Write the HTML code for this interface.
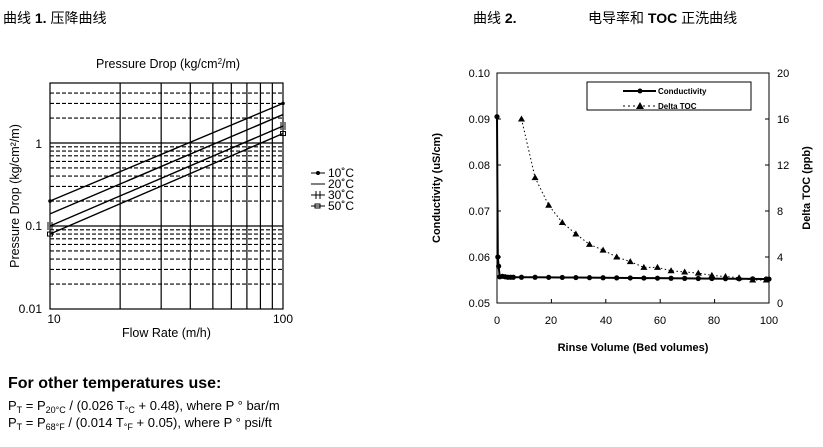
<!DOCTYPE html>
<html><head><meta charset="utf-8"><style>
body{margin:0;background:#fff;width:823px;height:447px;overflow:hidden;font-family:"Liberation Sans","Noto Sans CJK SC",sans-serif;}
svg{position:absolute;left:0;top:0}
</style></head><body>
<svg id="s" width="823" height="447" xmlns="http://www.w3.org/2000/svg" font-family="Liberation Sans, Noto Sans CJK SC, sans-serif">
<text x="3" y="23" font-size="14">曲线 <tspan font-weight="bold">1.</tspan> 压降曲线</text>
<text x="473" y="23" font-size="14">曲线 <tspan font-weight="bold">2.</tspan></text>
<text x="588" y="23" font-size="14">电导率和 <tspan font-weight="bold">TOC</tspan> 正洗曲线</text>
<text x="96" y="68" font-size="12.5">Pressure Drop (kg/cm<tspan font-size="8" dy="-4">2</tspan><tspan dy="4">/m)</tspan></text>
<text x="122" y="337" font-size="12.5">Flow Rate (m/h)</text>
<text transform="translate(19,196) rotate(-90)" text-anchor="middle" font-size="12.5">Pressure Drop (kg/cm²/m)</text>
<text x="42" y="148" font-size="12" text-anchor="end">1</text>
<text x="42" y="230" font-size="12" text-anchor="end">0.1</text>
<text x="42" y="313" font-size="12" text-anchor="end">0.01</text>
<text x="54" y="323" font-size="12" text-anchor="middle">10</text>
<text x="283" y="323" font-size="12" text-anchor="middle">100</text>
<g font-size="12"><text x="328" y="177">10˚C</text><text x="328" y="188">20˚C</text><text x="328" y="199">30˚C</text><text x="328" y="210">50˚C</text></g>
<g stroke="#000" stroke-width="1"><line x1="311" y1="173" x2="325" y2="173"/><circle cx="318" cy="173" r="1.5"/><line x1="311" y1="184" x2="325" y2="184"/><line x1="311" y1="195" x2="325" y2="195"/><line x1="316" y1="191" x2="316" y2="199"/><line x1="320" y1="191" x2="320" y2="199"/><line x1="311" y1="206" x2="325" y2="206"/><rect x="315" y="204" width="5" height="4" fill="none"/></g>
<text x="8" y="388" font-size="16" font-weight="bold">For other temperatures use:</text>
<text x="8" y="410" font-size="13">P<tspan font-size="9" dy="3">T</tspan><tspan dy="-3"> = P</tspan><tspan font-size="9" dy="3">20°C</tspan><tspan dy="-3"> / (0.026 T</tspan><tspan font-size="9" dy="3">°C</tspan><tspan dy="-3"> + 0.48), where P ° bar/m</tspan></text>
<text x="8" y="427" font-size="13">P<tspan font-size="9" dy="3">T</tspan><tspan dy="-3"> = P</tspan><tspan font-size="9" dy="3">68°F</tspan><tspan dy="-3"> / (0.014 T</tspan><tspan font-size="9" dy="3">°F</tspan><tspan dy="-3"> + 0.05), where P ° psi/ft</tspan></text>
<g font-size="11" text-anchor="end"><text x="490" y="77">0.10</text><text x="490" y="123">0.09</text><text x="490" y="169">0.08</text><text x="490" y="215">0.07</text><text x="490" y="261">0.06</text><text x="490" y="307">0.05</text></g>
<g font-size="11"><text x="777" y="77">20</text><text x="777" y="123">16</text><text x="777" y="169">12</text><text x="777" y="215">8</text><text x="777" y="261">4</text><text x="777" y="307">0</text></g>
<g font-size="11" text-anchor="middle"><text x="497" y="324">0</text><text x="551" y="324">20</text><text x="606" y="324">40</text><text x="660" y="324">60</text><text x="714" y="324">80</text><text x="769" y="324">100</text></g>
<text x="633" y="351" font-size="11" font-weight="bold" text-anchor="middle">Rinse Volume  (Bed volumes)</text>
<text transform="translate(440,188) rotate(-90)" text-anchor="middle" font-size="11" font-weight="bold">Conductivity  (uS/cm)</text>
<text transform="translate(810,188) rotate(-90)" text-anchor="middle" font-size="11" font-weight="bold">Delta TOC  (ppb)</text>
<rect x="587" y="82" width="164" height="28" fill="#fff" stroke="#000"/>
<line x1="623" y1="91" x2="656" y2="91" stroke="#000" stroke-width="2"/><circle cx="640" cy="91" r="2.5"/>
<text x="658" y="94" font-size="8" font-weight="bold">Conductivity</text>
<line x1="623" y1="106" x2="656" y2="106" stroke="#000" stroke-dasharray="2,3"/><path d="M640 102L644 109L636 109Z"/>
<text x="658" y="109" font-size="8" font-weight="bold">Delta TOC</text>
</svg>
<script>
var s=document.getElementById('s'),h='';
function L(a,b,c,d,st){h+='<line x1="'+a+'" y1="'+b+'" x2="'+c+'" y2="'+d+'" stroke="#000" '+(st||'')+'/>';}
var X=function(v){return 50+233*Math.log10(v/10)},Y=function(v){return 309-83*Math.log10(v/0.01)};
[0.02,0.03,0.04,0.05,0.06,0.07,0.08,0.09,0.2,0.3,0.4,0.5,0.6,0.7,0.8,0.9,2,3,4].forEach(function(v){L(50,Y(v),283,Y(v),'stroke-dasharray="4,2" stroke-width="1.1"');});
[0.1,1].forEach(function(v){L(50,Y(v),283,Y(v),'stroke-width="1.2"');});
for(var k=20;k<=90;k+=10)L(X(k),83,X(k),309,'stroke-width="1.2"');
h+='<rect x="50" y="83" width="233" height="226" fill="none" stroke="#000" stroke-width="1.2"/>';
[[0.2,3],[0.14,2.2],[0.1,1.6],[0.08,1.3]].forEach(function(p,i){L(50,Y(p[0]),283,Y(p[1]),'stroke-width="1.4"');
 [[50,Y(p[0])],[283,Y(p[1])]].forEach(function(q){
  if(i==0)h+='<circle cx="'+q[0]+'" cy="'+q[1]+'" r="1.8"/>';
  if(i==2)h+='<path d="M'+(q[0]-2)+' '+(q[1]-4)+'v8M'+(q[0]+2)+' '+(q[1]-4)+'v8" stroke="#000"/>';
  if(i==3)h+='<rect x="'+(q[0]-2.5)+'" y="'+(q[1]-2)+'" width="5" height="4" fill="none" stroke="#000"/>';});});
var RX=function(v){return 497+v*2.72},CY=function(c){return 303-(c-0.05)/0.05*230},TY=function(t){return 303-t/20*230};
h+='<rect x="497" y="73" width="272" height="230" fill="none" stroke="#000"/>';
for(var i=0;i<=5;i++){var y=73+i*46;L(497,y,501,y);L(765,y,769,y);}
for(var i=0;i<=5;i++){var x=497+i*54.4;L(x,303,x,299);}
var toc=[[9,16],[14,10.9],[19,8.5],[24,7],[29,6],[34,5.1],[39,4.6],[44,4],[49,3.6],[54,3.1],[59,3.1],[64,2.8],[69,2.7],[74,2.6],[79,2.4],[84,2.3],[89,2.2],[94,2.0],[99,2.0]];
h+='<polyline fill="none" stroke="#000" stroke-dasharray="1.5,2.5" points="'+toc.map(function(p){return RX(p[0])+','+TY(p[1])}).join(' ')+'"/>';
toc.forEach(function(p){var x=RX(p[0]),y=TY(p[1]);h+='<path d="M'+x+' '+(y-3.5)+'L'+(x+3.5)+' '+(y+2.5)+'L'+(x-3.5)+' '+(y+2.5)+'Z"/>';});
var con=[[0,0.0905],[0.3,0.06],[0.6,0.058],[1,0.0557],[2,0.0558],[3,0.0557],[4,0.0556],[5,0.0556],[6,0.0556],[9,0.0556]];
for(var v=14;v<=99;v+=5)con.push([v,0.0556-(v-14)*0.0000045]);
con.push([100,0.0552]);
h+='<polyline fill="none" stroke="#000" stroke-width="2" points="'+con.map(function(p){return RX(p[0])+','+CY(p[1])}).join(' ')+'"/>';
con.forEach(function(p){h+='<circle cx="'+RX(p[0])+'" cy="'+CY(p[1])+'" r="2.6"/>';});
s.insertAdjacentHTML('afterbegin',h);
</script>
</body></html>
